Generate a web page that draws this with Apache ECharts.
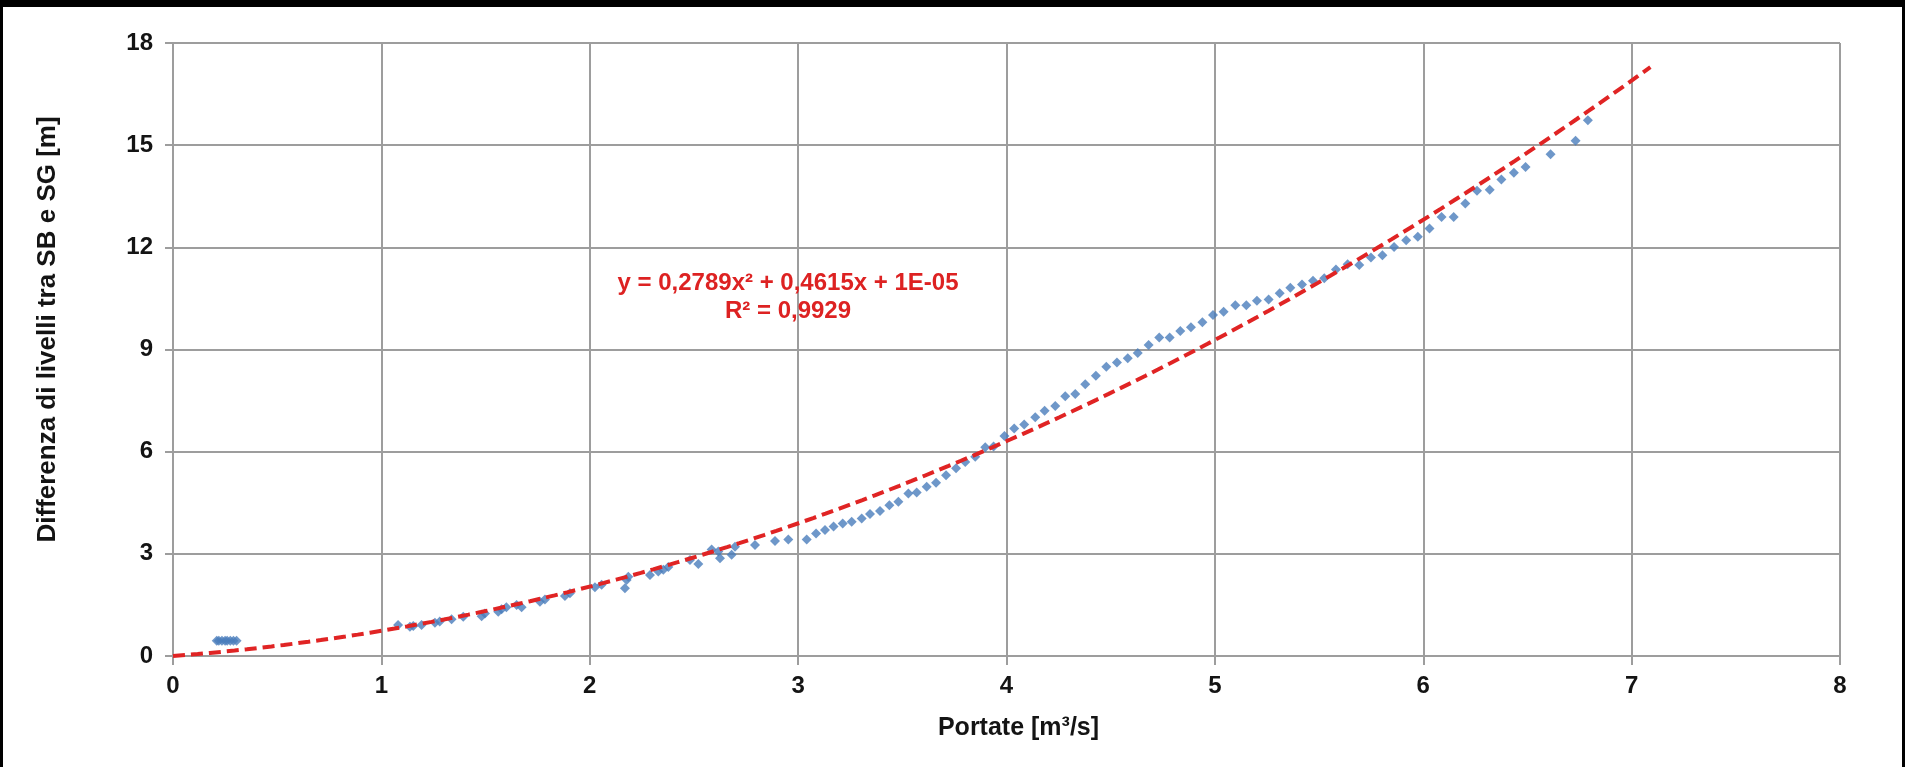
<!DOCTYPE html>
<html>
<head>
<meta charset="utf-8">
<script src="https://cdn.jsdelivr.net/npm/echarts@6/dist/echarts.min.js"></script>
<style>
html,body{margin:0;padding:0;background:#fff;}
#chart{width:1905px;height:767px;}
</style>
</head>
<body>
<div id="chart"></div>
<script>
// ---- data ----
const portate = [
  0.21, 0.22, 0.235, 0.25, 0.26, 0.275, 0.29, 0.305,
  1.08, 1.137, 1.153, 1.193, 1.257, 1.28, 1.337, 1.393, 1.481, 1.497,
  1.561, 1.577, 1.60, 1.649, 1.673, 1.761, 1.785, 1.881, 1.905,
  2.025, 2.057, 2.169, 2.177, 2.185, 2.289, 2.329, 2.353, 2.377,
  2.481, 2.521, 2.585, 2.617, 2.625, 2.681, 2.697, 2.793, 2.889, 2.953,
  3.041, 3.086, 3.129, 3.17, 3.214, 3.257, 3.305, 3.345, 3.393, 3.438,
  3.481, 3.529, 3.569, 3.617, 3.662, 3.710, 3.758, 3.802, 3.850, 3.898,
  3.938, 3.990, 4.037, 4.085, 4.138, 4.183, 4.234, 4.282, 4.330, 4.378,
  4.429, 4.479, 4.530, 4.582, 4.630, 4.682, 4.733, 4.783, 4.834, 4.885,
  4.94, 4.991, 5.042, 5.098, 5.151, 5.202, 5.258, 5.311, 5.362, 5.418,
  5.471, 5.525, 5.581, 5.637, 5.693, 5.749, 5.804, 5.860, 5.918, 5.974,
  6.030, 6.088, 6.146, 6.202, 6.258, 6.319, 6.375, 6.435, 6.491, 6.611,
  6.731, 6.790
];
const differenza = [
  0.45, 0.45, 0.45, 0.45, 0.45, 0.45, 0.45, 0.45,
  0.91, 0.86, 0.88, 0.91, 0.98, 1.01, 1.08, 1.15, 1.17, 1.25,
  1.30, 1.37, 1.43, 1.50, 1.43, 1.59, 1.66, 1.76, 1.84,
  2.02, 2.09, 1.99, 2.23, 2.33, 2.38, 2.48, 2.53, 2.61,
  2.82, 2.70, 3.13, 3.07, 2.87, 2.97, 3.21, 3.26, 3.38, 3.42,
  3.42, 3.60, 3.70, 3.80, 3.89, 3.94, 4.04, 4.17, 4.26, 4.43,
  4.53, 4.77, 4.80, 4.97, 5.09, 5.31, 5.51, 5.70, 5.85, 6.13,
  6.15, 6.46, 6.68, 6.80, 7.01, 7.20, 7.34, 7.63, 7.69, 7.98,
  8.23, 8.49, 8.62, 8.74, 8.90, 9.13, 9.35, 9.35, 9.54, 9.65,
  9.80, 10.01, 10.11, 10.30, 10.30, 10.43, 10.47, 10.65, 10.81, 10.91,
  11.02, 11.09, 11.35, 11.50, 11.48, 11.70, 11.77, 12.01, 12.21, 12.31,
  12.55, 12.89, 12.89, 13.29, 13.66, 13.69, 13.99, 14.19, 14.36, 14.73,
  15.13, 15.73
];
// polynomial trendline coefficients shown on the chart (a x^2 + b x + c)
const trendCoeffs = [0.2789, 0.4615, 0.00001];
const trendRange = [0, 7.09];
const trendR2 = 0.9929;
const xTicks = [0, 1, 2, 3, 4, 5, 6, 7, 8];
const yTicks = [0, 3, 6, 9, 12, 15, 18];

// ---- build series data ----
const scatterData = portate.map((x, i) => [x, differenza[i]]);
const trendData = [];
const nSteps = 120;
for (let i = 0; i <= nSteps; i++) {
  const x = trendRange[0] + (trendRange[1] - trendRange[0]) * i / nSteps;
  trendData.push([x, trendCoeffs[0] * x * x + trendCoeffs[1] * x + trendCoeffs[2]]);
}
const fmt = v => String(v).replace('.', ',');
const eqLine1 = 'y = ' + fmt(trendCoeffs[0]) + 'x² + ' + fmt(trendCoeffs[1]) + 'x + 1E-05';
const eqLine2 = 'R² = ' + fmt(trendR2);

const FONT = '"Liberation Sans", Arial, Helvetica, sans-serif';
const GRID_COLOR = '#9d9d9d';
const TEXT_COLOR = '#141414';
const RED = '#dd2222';

const chart = echarts.init(document.getElementById('chart'));
chart.setOption({
  backgroundColor: '#ffffff',
  animation: false,
  grid: { left: 173, right: 65, top: 43, bottom: 111, containLabel: false },
  xAxis: {
    type: 'value',
    min: xTicks[0], max: xTicks[xTicks.length - 1], interval: 1,
    name: 'Portate [m³/s]',
    nameLocation: 'middle', nameGap: 60,
    nameTextStyle: { fontFamily: FONT, fontSize: 25, fontWeight: 'bold', color: TEXT_COLOR, padding: [0, 0, 0, 24] },
    axisLine: { show: true, lineStyle: { color: GRID_COLOR, width: 2 } },
    axisTick: { show: true, length: 9, lineStyle: { color: GRID_COLOR, width: 2 } },
    axisLabel: { fontFamily: FONT, fontSize: 24, fontWeight: 'bold', color: TEXT_COLOR, margin: 18 },
    splitLine: { show: true, lineStyle: { color: GRID_COLOR, width: 2 } }
  },
  yAxis: {
    type: 'value',
    min: yTicks[0], max: yTicks[yTicks.length - 1], interval: 3,
    name: 'Differenza di livelli tra SB e SG [m]',
    nameLocation: 'middle', nameGap: 112, nameRotate: 90,
    nameTextStyle: { fontFamily: FONT, fontSize: 26, fontWeight: 'bold', color: TEXT_COLOR, padding: [0, 0, 0, 40] },
    axisLine: { show: true, lineStyle: { color: GRID_COLOR, width: 2 } },
    axisTick: { show: true, length: 8, lineStyle: { color: GRID_COLOR, width: 2 } },
    axisLabel: { fontFamily: FONT, fontSize: 24, fontWeight: 'bold', color: TEXT_COLOR, margin: 20 },
    splitLine: { show: true, lineStyle: { color: GRID_COLOR, width: 2 } }
  },
  series: [
    {
      name: 'Differenza',
      type: 'scatter',
      data: scatterData,
      symbol: 'diamond',
      symbolSize: 10,
      itemStyle: { color: '#4a7dbb' },
      z: 3
    },
    {
      name: 'Tendenza',
      type: 'line',
      data: trendData,
      showSymbol: false,
      smooth: false,
      lineStyle: { color: '#e02424', width: 4, type: [12, 6] },
      z: 4
    }
  ],
  graphic: [
    { type: 'rect', shape: { x: 0, y: 0, width: 1905, height: 7 }, style: { fill: '#000' }, z: 100 },
    { type: 'rect', shape: { x: 0, y: 0, width: 3, height: 767 }, style: { fill: '#000' }, z: 100 },
    { type: 'rect', shape: { x: 1902, y: 0, width: 3, height: 767 }, style: { fill: '#000' }, z: 100 },
    {
      type: 'text', z: 50,
      x: 788, y: 283,
      style: { text: eqLine1, x: 0, y: 0, textAlign: 'center', textVerticalAlign: 'middle',
        font: 'bold 24px ' + FONT, fill: RED }
    },
    {
      type: 'text', z: 50,
      x: 788, y: 311,
      style: { text: eqLine2, x: 0, y: 0, textAlign: 'center', textVerticalAlign: 'middle',
        font: 'bold 24px ' + FONT, fill: RED }
    }
  ]
});
</script>
</body>
</html>
